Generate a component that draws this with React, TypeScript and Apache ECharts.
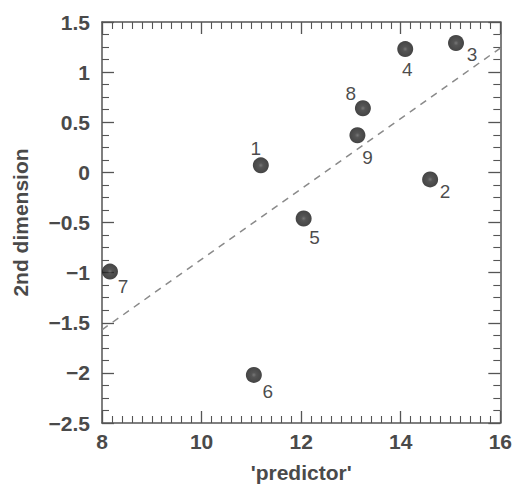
import React, { useEffect, useRef } from "react";
import * as echarts from "echarts";

const pointIds = ["1", "2", "3", "4", "5", "6", "7", "8", "9"];
const predictorValues = [11.19, 14.59, 15.11, 14.09, 12.05, 11.05, 8.16, 13.24, 13.13];
const dimensionValues = [0.07, -0.07, 1.29, 1.23, -0.46, -2.02, -0.99, 0.64, 0.37];
const fitLineX = [8, 16];
const fitLineY = [-1.57, 1.24];

// label placement (style only)
const labelOffsets: Record<string, [number, number]> = {
  "1": [-5, -17],
  "2": [15, 12],
  "3": [16, 11],
  "4": [2, 20],
  "5": [11, 19],
  "6": [14, 17],
  "7": [13, 15],
  "8": [-12, -15],
  "9": [10, 22],
};

const FONT = "'Liberation Sans', Arial, Helvetica, sans-serif";
const AXIS_COLOR = "#555";
const LABEL_COLOR = "#4a4a4a";

const fmt = (v: number) => {
  const s = String(Math.round(v * 1000) / 1000);
  return s.replace("-", "\u2212");
};

export default function App() {
  const ref = useRef<HTMLDivElement>(null);
  useEffect(() => {
    document.body.style.margin = "0";
    document.body.style.overflow = "hidden";
    if (!ref.current) return;
    const chart = echarts.init(ref.current, undefined, { renderer: "svg" });
    const axisLine = { show: true, onZero: false, lineStyle: { color: AXIS_COLOR, width: 1.5 } };
    const axisTick = { show: true, inside: true, length: 12, lineStyle: { color: AXIS_COLOR, width: 1.3 } };
    const xMinor = { show: true, splitNumber: 10, length: 7, lineStyle: { color: AXIS_COLOR, width: 1.1 } };
    const yMinor = { show: true, splitNumber: 4, length: 7, lineStyle: { color: AXIS_COLOR, width: 1.1 } };
    const axisLabel = {
      color: LABEL_COLOR,
      fontFamily: FONT,
      fontWeight: "bold" as const,
      fontSize: 21,
      formatter: (v: number) => fmt(v),
    };
    const nameStyle = {
      color: LABEL_COLOR,
      fontFamily: FONT,
      fontWeight: "bold" as const,
      fontSize: 21,
    };
    const pts = pointIds.map((id, i) => ({
      value: [predictorValues[i], dimensionValues[i]],
      name: id,
      label: {
        show: true,
        position: "inside",
        offset: labelOffsets[id],
        formatter: id,
        color: "#1a1a1a",
        fontFamily: FONT,
        fontSize: 19,
      },
    }));
    chart.setOption({
      animation: false,
      backgroundColor: "#fff",
      grid: { left: 102, right: 13, top: 22, bottom: 60 },
      xAxis: [
        {
          type: "value",
          min: 8,
          max: 16,
          interval: 2,
          position: "bottom",
          name: "'predictor'",
          nameLocation: "middle",
          nameGap: 39,
          nameTextStyle: nameStyle,
          axisLine,
          axisTick,
          minorTick: xMinor,
          axisLabel: { ...axisLabel, margin: 8 },
          splitLine: { show: false },
          minorSplitLine: { show: false },
        },
        {
          type: "value",
          min: 8,
          max: 16,
          interval: 2,
          position: "top",
          axisLine,
          axisTick,
          minorTick: xMinor,
          axisLabel: { show: false },
          splitLine: { show: false },
        },
      ],
      yAxis: [
        {
          type: "value",
          min: -2.5,
          max: 1.5,
          interval: 0.5,
          position: "left",
          name: "2nd dimension",
          nameLocation: "middle",
          nameGap: 71,
          nameTextStyle: nameStyle,
          axisLine,
          axisTick,
          minorTick: yMinor,
          axisLabel: { ...axisLabel, margin: 12 },
          splitLine: { show: false },
        },
        {
          type: "value",
          min: -2.5,
          max: 1.5,
          interval: 0.5,
          position: "right",
          axisLine,
          axisTick,
          minorTick: yMinor,
          axisLabel: { show: false },
          splitLine: { show: false },
        },
      ],
      series: [
        {
          type: "line",
          data: fitLineX.map((x, i) => [x, fitLineY[i]]),
          showSymbol: false,
          symbol: "none",
          lineStyle: { color: "#8a8a8a", width: 1.5, type: [7, 6] },
          silent: true,
          z: 1,
        },
        {
          type: "scatter",
          data: pts,
          symbol: "circle",
          symbolSize: 16,
          itemStyle: {
            color: {
              type: "radial",
              x: 0.5,
              y: 0.5,
              r: 0.5,
              colorStops: [
                { offset: 0, color: "#555555" },
                { offset: 0.3, color: "#2a2a2a" },
                { offset: 1, color: "#161616" },
              ],
            },
          },
          z: 3,
        },
      ],
    });
    return () => chart.dispose();
  }, []);
  return <div ref={ref} style={{ width: 515, height: 488 }} />;
}
